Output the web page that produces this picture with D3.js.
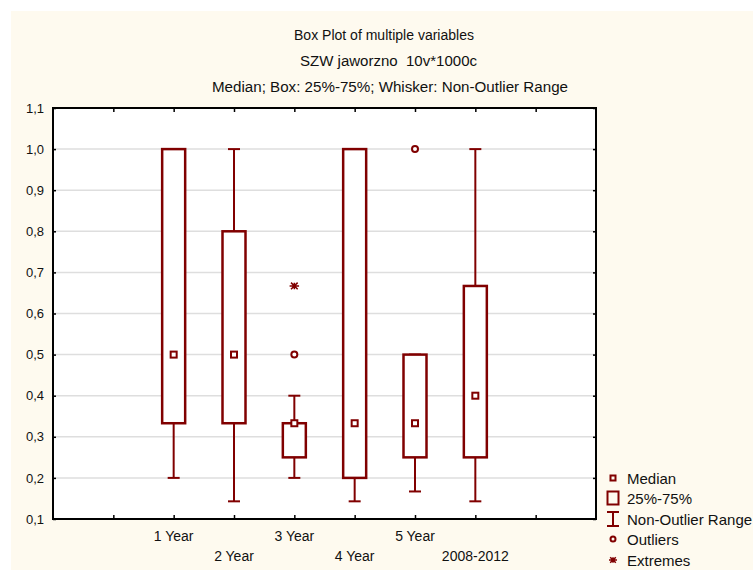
<!DOCTYPE html>
<html>
<head>
<meta charset="utf-8">
<script src="https://cdn.jsdelivr.net/npm/d3@7"></script>
<style>
  html, body { margin: 0; padding: 0; background: #ffffff; }
  svg text { font-family: "Liberation Sans", Arial, sans-serif; fill: #111; }
</style>
</head>
<body>
<svg id="chart" width="753" height="570"></svg>
<script>
// Box plot data: one entry per variable
const categories = ["1 Year", "2 Year", "3 Year", "4 Year", "5 Year", "2008-2012"];
const medians    = [0.5,   0.5,   0.333, 0.333, 0.333, 0.4];
const q1         = [0.333, 0.333, 0.25,  0.2,   0.25,  0.25];
const q3         = [1.0,   0.8,   0.333, 1.0,   0.5,   0.667];
const whiskerLo  = [0.2,   0.143, 0.2,   0.143, 0.167, 0.143];
const whiskerHi  = [1.0,   1.0,   0.4,   1.0,   0.5,   1.0];
const outliers   = [[], [], [0.5], [], [1.0], []];
const extremes   = [[], [], [0.667], [], [], []];
const yTicks     = [0.1, 0.2, 0.3, 0.4, 0.5, 0.6, 0.7, 0.8, 0.9, 1.0, 1.1];
const titleLines = ["Box Plot of multiple variables", "SZW jaworzno  10v*1000c",
                    "Median; Box: 25%-75%; Whisker: Non-Outlier Range"];
const legendItems = ["Median", "25%-75%", "Non-Outlier Range", "Outliers", "Extremes"];

const RED = "#800000";
const svg = d3.select("#chart");

// eight-armed star used for extreme values
const starSymbol = {
  draw(context, size) {
    const r = Math.sqrt(size) / 2;
    const h = r * 0.7;
    context.moveTo(-r, 0); context.lineTo(r, 0);
    context.moveTo(0, -h); context.lineTo(0, h);
    context.moveTo(-h, -h); context.lineTo(h, h);
    context.moveTo(-h, h); context.lineTo(h, -h);
  }
};

// page background panel
svg.append("rect").attr("x", 11).attr("y", 11).attr("width", 742).attr("height", 559)
  .attr("fill", "#fefaef");

const plot = { left: 53, right: 596, top: 108, bottom: 519 };

// slots 0..9 along x, variables sit on slots 2..7
const x = d3.scaleLinear().domain([0, 9]).range([plot.left, plot.right]);
const y = d3.scaleLinear().domain([0.1, 1.1]).range([plot.bottom, plot.top]);
const xPos = i => x(i + 2);

// plot area
svg.append("rect").attr("x", plot.left).attr("y", plot.top)
  .attr("width", plot.right - plot.left).attr("height", plot.bottom - plot.top)
  .attr("fill", "#ffffff");

// horizontal grid
svg.append("g").selectAll("line").data(yTicks.slice(1, -1)).join("line")
  .attr("x1", plot.left).attr("x2", plot.right)
  .attr("y1", d => y(d)).attr("y2", d => y(d))
  .attr("stroke", "#dedede").attr("stroke-width", 1.5);

// axes with inward ticks
const fmt = d => d3.format(".1f")(d).replace(".", ",");
const yLeft = svg.append("g").attr("transform", `translate(${plot.left},0)`)
  .call(d3.axisLeft(y).tickValues(yTicks).tickFormat(fmt).tickSizeInner(-3).tickSizeOuter(0).tickPadding(9));
const yRight = svg.append("g").attr("transform", `translate(${plot.right},0)`)
  .call(d3.axisRight(y).tickValues(yTicks).tickFormat("").tickSizeInner(-3).tickSizeOuter(0));
const xTop = svg.append("g").attr("transform", `translate(0,${plot.top})`)
  .call(d3.axisTop(x).tickValues(d3.range(1, 9)).tickFormat("").tickSizeInner(-4).tickSizeOuter(0));
const xBottom = svg.append("g").attr("transform", `translate(0,${plot.bottom})`)
  .call(d3.axisBottom(x).tickValues(d3.range(1, 9)).tickFormat("").tickSizeInner(-4).tickSizeOuter(0));

[yLeft, yRight, xTop, xBottom].forEach(g => {
  g.select(".domain").remove();
  g.selectAll(".tick line").attr("stroke", "#000").attr("stroke-width", 1.5);
});
yLeft.selectAll(".tick text").attr("font-size", 13).attr("fill", "#111")
  .style("font-family", "'Liberation Sans', Arial, sans-serif");

// frame
svg.append("rect").attr("x", plot.left).attr("y", plot.top)
  .attr("width", plot.right - plot.left).attr("height", plot.bottom - plot.top)
  .attr("fill", "none").attr("stroke", "#000").attr("stroke-width", 2);

// category labels, staggered on two rows
svg.append("g").selectAll("text").data(categories).join("text")
  .attr("x", (d, i) => xPos(i))
  .attr("y", (d, i) => i % 2 === 0 ? 541 : 561)
  .attr("text-anchor", "middle").attr("font-size", 14)
  .text(d => d);

// boxes
const boxW = 23, capW = 12;
const boxes = svg.append("g");
categories.forEach((c, i) => {
  const cx = xPos(i);
  const g = boxes.append("g");
  // whiskers
  g.append("line").attr("x1", cx).attr("x2", cx)
    .attr("y1", y(whiskerHi[i])).attr("y2", y(q3[i]))
    .attr("stroke", RED).attr("stroke-width", 2);
  g.append("line").attr("x1", cx).attr("x2", cx)
    .attr("y1", y(q1[i])).attr("y2", y(whiskerLo[i]))
    .attr("stroke", RED).attr("stroke-width", 2);
  [whiskerHi[i], whiskerLo[i]].forEach(v => {
    g.append("line").attr("x1", cx - capW / 2).attr("x2", cx + capW / 2)
      .attr("y1", y(v)).attr("y2", y(v))
      .attr("stroke", RED).attr("stroke-width", 2);
  });
  // box
  g.append("rect").attr("x", cx - boxW / 2).attr("y", y(q3[i]))
    .attr("width", boxW).attr("height", y(q1[i]) - y(q3[i]))
    .attr("fill", "#fff").attr("stroke", RED).attr("stroke-width", 2.5);
  // median
  g.append("rect").attr("x", cx - 3).attr("y", y(medians[i]) - 3)
    .attr("width", 6).attr("height", 6)
    .attr("fill", "#fff").attr("stroke", RED).attr("stroke-width", 2);
  // outliers
  outliers[i].forEach(v => {
    g.append("circle").attr("cx", cx).attr("cy", y(v)).attr("r", 3)
      .attr("fill", "#fff").attr("stroke", RED).attr("stroke-width", 2);
  });
  // extremes
  extremes[i].forEach(v => {
    g.append("path").attr("transform", `translate(${cx},${y(v)})`)
      .attr("d", d3.symbol(starSymbol, 90)())
      .attr("fill", "none").attr("stroke", RED).attr("stroke-width", 1.5);
  });
});

// titles
const titleSpec = [
  { cx: 384, y: 40, w: 180 },
  { cx: 388.5, y: 66, w: 177 },
  { cx: 390, y: 92, w: 356 }
];
svg.append("g").selectAll("text").data(titleLines).join("text")
  .attr("x", (d, i) => titleSpec[i].cx)
  .attr("y", (d, i) => titleSpec[i].y)
  .attr("text-anchor", "middle").attr("font-size", 14)
  .attr("textLength", (d, i) => titleSpec[i].w)
  .attr("lengthAdjust", "spacingAndGlyphs")
  .style("white-space", "pre")
  .text(d => d);

// legend
const legend = svg.append("g");
const lx = 613, ly = [478, 498, 519, 539, 560];
legendItems.forEach((t, i) => {
  legend.append("text").attr("x", 627).attr("y", ly[i] + 5.5).attr("font-size", 15).text(t);
});
legend.append("rect").attr("x", lx - 2.5).attr("y", ly[0] - 2.5).attr("width", 5).attr("height", 5)
  .attr("fill", "none").attr("stroke", RED).attr("stroke-width", 2);
legend.append("rect").attr("x", lx - 5.5).attr("y", ly[1] - 6.5).attr("width", 11).attr("height", 13)
  .attr("fill", "none").attr("stroke", RED).attr("stroke-width", 2);
legend.append("path")
  .attr("d", `M${lx - 6},${ly[2] - 7}H${lx + 6}M${lx},${ly[2] - 7}V${ly[2] + 7}M${lx - 6},${ly[2] + 7}H${lx + 6}`)
  .attr("fill", "none").attr("stroke", RED).attr("stroke-width", 2);
legend.append("circle").attr("cx", lx).attr("cy", ly[3]).attr("r", 2.5)
  .attr("fill", "none").attr("stroke", RED).attr("stroke-width", 2);
legend.append("path").attr("transform", `translate(${lx},${ly[4]})`)
  .attr("d", d3.symbol(starSymbol, 64)())
  .attr("fill", "none").attr("stroke", RED).attr("stroke-width", 1.5);
</script>
</body>
</html>
